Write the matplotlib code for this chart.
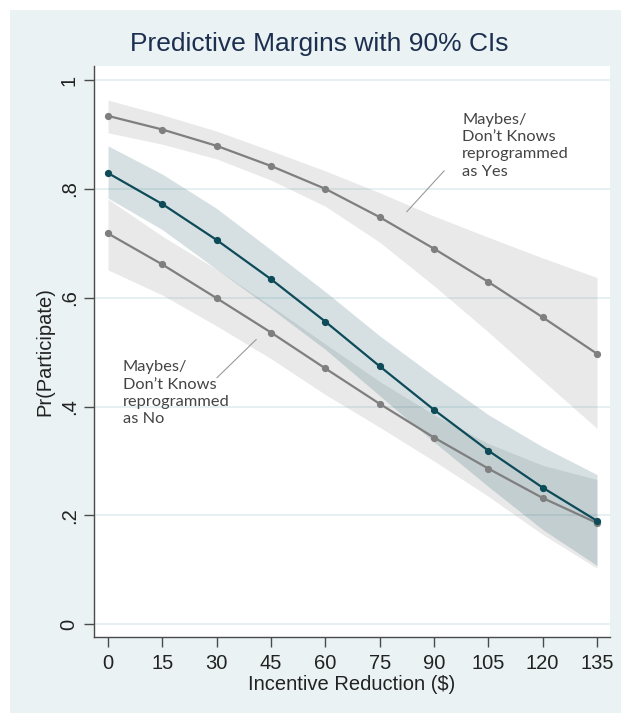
import matplotlib
matplotlib.use("Agg")
import matplotlib.pyplot as plt
from matplotlib.patches import Rectangle

# ---- data ----
incentive = [0, 15, 30, 45, 60, 75, 90, 105, 120, 135]

yes_mean = [0.934, 0.909, 0.879, 0.842, 0.800, 0.748, 0.690, 0.629, 0.564, 0.497]
yes_hi   = [0.963, 0.936, 0.906, 0.870, 0.833, 0.793, 0.750, 0.711, 0.673, 0.637]
yes_lo   = [0.903, 0.882, 0.855, 0.816, 0.768, 0.702, 0.622, 0.537, 0.448, 0.360]

main_mean = [0.829, 0.772, 0.706, 0.634, 0.556, 0.474, 0.394, 0.319, 0.251, 0.190]
main_hi   = [0.879, 0.827, 0.764, 0.688, 0.611, 0.530, 0.456, 0.385, 0.326, 0.275]
main_lo   = [0.783, 0.725, 0.652, 0.580, 0.505, 0.420, 0.335, 0.253, 0.174, 0.108]

no_mean = [0.718, 0.661, 0.599, 0.536, 0.470, 0.405, 0.343, 0.286, 0.232, 0.186]
no_hi   = [0.781, 0.713, 0.652, 0.585, 0.515, 0.446, 0.385, 0.332, 0.292, 0.266]
no_lo   = [0.651, 0.605, 0.548, 0.488, 0.422, 0.362, 0.300, 0.235, 0.165, 0.103]

yticks = [0, 0.2, 0.4, 0.6, 0.8, 1.0]
ytick_labels = ["0", ".2", ".4", ".6", ".8", "1"]

title = "Predictive Margins with 90% CIs"
xlabel = "Incentive Reduction ($)"
ylabel = "Pr(Participate)"
note_yes = "Maybes/\nDon\u2019t Knows\nreprogrammed\nas Yes"
note_no = "Maybes/\nDon\u2019t Knows\nreprogrammed\nas No"

# ---- style ----
bg = "#eaf2f3"
grid_c = "#e2eef0"
gray = "#7f7f7f"
teal = "#0d4b59"
axis_c = "#4a4a4a"

plt.rcParams['font.family'] = ['Liberation Sans', 'DejaVu Sans']

fig = plt.figure(figsize=(6.21, 7.13), dpi=100)
fig.patch.set_facecolor("white")
fig.patches.append(Rectangle((10/621, 0), 1 - 10/621, 1 - 10/713,
                             transform=fig.transFigure, facecolor=bg,
                             edgecolor="none", zorder=-10))

ax = fig.add_axes([94/621, 1 - 637/713, (610 - 94)/621, (637 - 66)/713])
ax.set_facecolor("white")

ax.fill_between(incentive, yes_lo, yes_hi, color=gray, alpha=0.17, linewidth=0, zorder=1)
ax.fill_between(incentive, no_lo, no_hi, color=gray, alpha=0.17, linewidth=0, zorder=1)
ax.fill_between(incentive, main_lo, main_hi, color=teal, alpha=0.17, linewidth=0, zorder=1.5)

ax.plot(incentive, yes_mean, color=gray, lw=1.6, marker='o', ms=4.2, zorder=3)
ax.plot(incentive, no_mean, color=gray, lw=1.6, marker='o', ms=4.2, zorder=3)
ax.plot(incentive, main_mean, color=teal, lw=1.6, marker='o', ms=4.2, zorder=4)

ax.set_xlim(-3.87, 138.6)
ax.set_ylim(-0.0235, 1.0257)
ax.set_xticks(incentive)
ax.set_xticklabels([str(v) for v in incentive], fontsize=14.5, color="#222222")
ax.set_yticks(yticks)
ax.set_yticklabels(ytick_labels, fontsize=14.5, color="#222222", rotation=90, va='center')

for y in yticks:
    ax.axhline(y, color=grid_c, lw=1.2, zorder=0.5)

for s in ["top", "right"]:
    ax.spines[s].set_visible(False)
for s in ["left", "bottom"]:
    ax.spines[s].set_color(axis_c)
    ax.spines[s].set_linewidth(1.0)
ax.tick_params(axis='both', colors=axis_c, length=7, width=1.0, labelcolor="#222222")
ax.tick_params(axis='x', pad=5)
ax.tick_params(axis='y', pad=4)

ax.set_xlabel(xlabel, fontsize=14.5, color="#222222", labelpad=2)
ax.set_ylabel(ylabel, fontsize=14.5, color="#222222", labelpad=4)

fig.text(319/621, 1 - 44/713, title, fontsize=19, color="#1c2f4f",
         ha='center', va='center')

ax.text(97.8, 0.940, note_yes, fontsize=11.8, color="#444444", ha='left', va='top',
        linespacing=1.3, family=['Lato', 'DejaVu Sans'])
ax.text(4.1, 0.485, note_no, fontsize=11.8, color="#444444", ha='left', va='top',
        linespacing=1.3, family=['Lato', 'DejaVu Sans'])
ax.plot([92.8, 82.5], [0.833, 0.758], color="#9a9a9a", lw=0.8, zorder=5)
ax.plot([30.1, 40.9], [0.453, 0.523], color="#9a9a9a", lw=0.8, zorder=5)

fig.savefig("out.png", dpi=100, facecolor=fig.get_facecolor())
